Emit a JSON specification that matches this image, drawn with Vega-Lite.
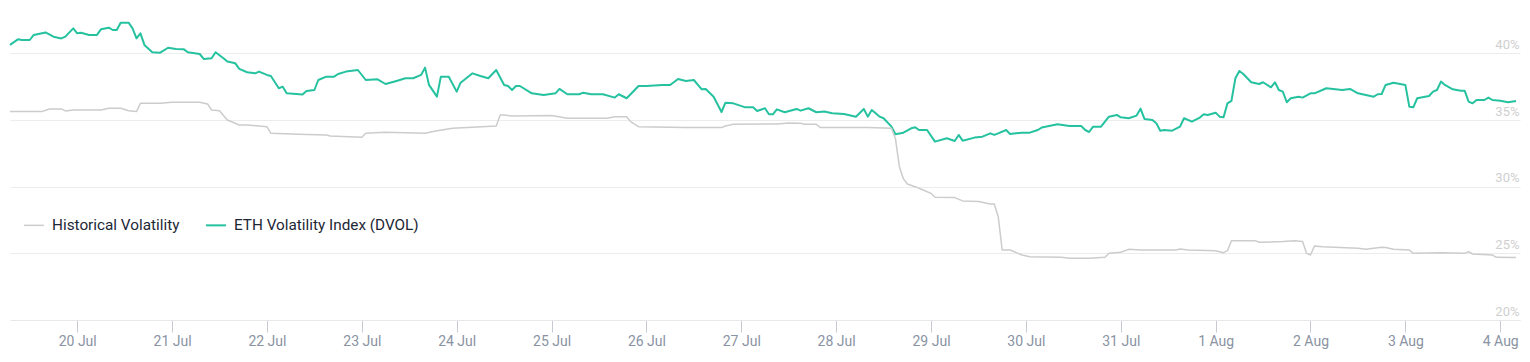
{
  "$schema": "https://vega.github.io/schema/vega-lite/v6.json",
  "width": 1510,
  "height": 320,
  "autosize": "none",
  "padding": {"left": 10, "top": 0, "right": 10, "bottom": 42},
  "background": "white",
  "config": {
    "view": {"stroke": null},
    "font": "Roboto"
  },
  "data": {
    "values": [
      {"t":"2023-07-19T07:00:00Z","s":"DVOL","v":40.63},
      {"t":"2023-07-19T09:00:00Z","s":"DVOL","v":41.05},
      {"t":"2023-07-19T10:00:00Z","s":"DVOL","v":41.0},
      {"t":"2023-07-19T12:00:00Z","s":"DVOL","v":41.0},
      {"t":"2023-07-19T13:00:00Z","s":"DVOL","v":41.38},
      {"t":"2023-07-19T16:00:00Z","s":"DVOL","v":41.57},
      {"t":"2023-07-19T18:00:00Z","s":"DVOL","v":41.25},
      {"t":"2023-07-19T20:00:00Z","s":"DVOL","v":41.12},
      {"t":"2023-07-19T21:00:00Z","s":"DVOL","v":41.25},
      {"t":"2023-07-19T23:00:00Z","s":"DVOL","v":41.87},
      {"t":"2023-07-20T00:00:00Z","s":"DVOL","v":41.5},
      {"t":"2023-07-20T01:00:00Z","s":"DVOL","v":41.55},
      {"t":"2023-07-20T03:00:00Z","s":"DVOL","v":41.38},
      {"t":"2023-07-20T05:00:00Z","s":"DVOL","v":41.38},
      {"t":"2023-07-20T06:00:00Z","s":"DVOL","v":41.8},
      {"t":"2023-07-20T08:00:00Z","s":"DVOL","v":41.92},
      {"t":"2023-07-20T09:00:00Z","s":"DVOL","v":41.75},
      {"t":"2023-07-20T10:00:00Z","s":"DVOL","v":41.75},
      {"t":"2023-07-20T11:00:00Z","s":"DVOL","v":42.3},
      {"t":"2023-07-20T13:00:00Z","s":"DVOL","v":42.3},
      {"t":"2023-07-20T14:00:00Z","s":"DVOL","v":41.87},
      {"t":"2023-07-20T15:00:00Z","s":"DVOL","v":41.12},
      {"t":"2023-07-20T16:00:00Z","s":"DVOL","v":41.5},
      {"t":"2023-07-20T17:00:00Z","s":"DVOL","v":40.63},
      {"t":"2023-07-20T19:00:00Z","s":"DVOL","v":40.08},
      {"t":"2023-07-20T21:00:00Z","s":"DVOL","v":40.05},
      {"t":"2023-07-20T23:00:00Z","s":"DVOL","v":40.42},
      {"t":"2023-07-21T01:00:00Z","s":"DVOL","v":40.33},
      {"t":"2023-07-21T03:00:00Z","s":"DVOL","v":40.3},
      {"t":"2023-07-21T04:00:00Z","s":"DVOL","v":40.08},
      {"t":"2023-07-21T07:00:00Z","s":"DVOL","v":39.95},
      {"t":"2023-07-21T08:00:00Z","s":"DVOL","v":39.58},
      {"t":"2023-07-21T10:00:00Z","s":"DVOL","v":39.63},
      {"t":"2023-07-21T11:00:00Z","s":"DVOL","v":40.08},
      {"t":"2023-07-21T13:00:00Z","s":"DVOL","v":39.63},
      {"t":"2023-07-21T14:00:00Z","s":"DVOL","v":39.38},
      {"t":"2023-07-21T16:00:00Z","s":"DVOL","v":39.25},
      {"t":"2023-07-21T17:00:00Z","s":"DVOL","v":38.83},
      {"t":"2023-07-21T19:00:00Z","s":"DVOL","v":38.58},
      {"t":"2023-07-21T21:00:00Z","s":"DVOL","v":38.5},
      {"t":"2023-07-21T22:00:00Z","s":"DVOL","v":38.63},
      {"t":"2023-07-22T00:00:00Z","s":"DVOL","v":38.38},
      {"t":"2023-07-22T01:00:00Z","s":"DVOL","v":38.3},
      {"t":"2023-07-22T03:00:00Z","s":"DVOL","v":37.38},
      {"t":"2023-07-22T04:00:00Z","s":"DVOL","v":37.5},
      {"t":"2023-07-22T05:00:00Z","s":"DVOL","v":37.0},
      {"t":"2023-07-22T09:00:00Z","s":"DVOL","v":36.92},
      {"t":"2023-07-22T10:00:00Z","s":"DVOL","v":37.18},
      {"t":"2023-07-22T12:00:00Z","s":"DVOL","v":37.25},
      {"t":"2023-07-22T13:00:00Z","s":"DVOL","v":38.0},
      {"t":"2023-07-22T15:00:00Z","s":"DVOL","v":38.25},
      {"t":"2023-07-22T17:00:00Z","s":"DVOL","v":38.25},
      {"t":"2023-07-22T18:00:00Z","s":"DVOL","v":38.45},
      {"t":"2023-07-22T20:00:00Z","s":"DVOL","v":38.63},
      {"t":"2023-07-22T23:00:00Z","s":"DVOL","v":38.75},
      {"t":"2023-07-23T01:00:00Z","s":"DVOL","v":38.0},
      {"t":"2023-07-23T04:00:00Z","s":"DVOL","v":38.05},
      {"t":"2023-07-23T06:00:00Z","s":"DVOL","v":37.7},
      {"t":"2023-07-23T09:00:00Z","s":"DVOL","v":37.95},
      {"t":"2023-07-23T11:00:00Z","s":"DVOL","v":38.13},
      {"t":"2023-07-23T13:00:00Z","s":"DVOL","v":38.13},
      {"t":"2023-07-23T15:00:00Z","s":"DVOL","v":38.38},
      {"t":"2023-07-23T16:00:00Z","s":"DVOL","v":38.93},
      {"t":"2023-07-23T17:00:00Z","s":"DVOL","v":37.63},
      {"t":"2023-07-23T19:00:00Z","s":"DVOL","v":36.75},
      {"t":"2023-07-23T20:00:00Z","s":"DVOL","v":38.25},
      {"t":"2023-07-23T22:00:00Z","s":"DVOL","v":38.25},
      {"t":"2023-07-24T00:00:00Z","s":"DVOL","v":37.13},
      {"t":"2023-07-24T01:00:00Z","s":"DVOL","v":37.8},
      {"t":"2023-07-24T04:00:00Z","s":"DVOL","v":38.5},
      {"t":"2023-07-24T06:00:00Z","s":"DVOL","v":38.3},
      {"t":"2023-07-24T08:00:00Z","s":"DVOL","v":38.13},
      {"t":"2023-07-24T10:00:00Z","s":"DVOL","v":38.75},
      {"t":"2023-07-24T12:00:00Z","s":"DVOL","v":37.63},
      {"t":"2023-07-24T13:00:00Z","s":"DVOL","v":37.55},
      {"t":"2023-07-24T14:00:00Z","s":"DVOL","v":37.25},
      {"t":"2023-07-24T15:00:00Z","s":"DVOL","v":37.55},
      {"t":"2023-07-24T16:00:00Z","s":"DVOL","v":37.55},
      {"t":"2023-07-24T19:00:00Z","s":"DVOL","v":37.0},
      {"t":"2023-07-24T22:00:00Z","s":"DVOL","v":36.88},
      {"t":"2023-07-25T01:00:00Z","s":"DVOL","v":37.0},
      {"t":"2023-07-25T02:00:00Z","s":"DVOL","v":37.33},
      {"t":"2023-07-25T04:00:00Z","s":"DVOL","v":36.93},
      {"t":"2023-07-25T07:00:00Z","s":"DVOL","v":36.93},
      {"t":"2023-07-25T08:00:00Z","s":"DVOL","v":37.05},
      {"t":"2023-07-25T10:00:00Z","s":"DVOL","v":36.93},
      {"t":"2023-07-25T13:00:00Z","s":"DVOL","v":36.93},
      {"t":"2023-07-25T16:00:00Z","s":"DVOL","v":36.68},
      {"t":"2023-07-25T17:00:00Z","s":"DVOL","v":36.93},
      {"t":"2023-07-25T19:00:00Z","s":"DVOL","v":36.63},
      {"t":"2023-07-25T20:00:00Z","s":"DVOL","v":36.93},
      {"t":"2023-07-25T22:00:00Z","s":"DVOL","v":37.55},
      {"t":"2023-07-26T00:00:00Z","s":"DVOL","v":37.55},
      {"t":"2023-07-26T04:00:00Z","s":"DVOL","v":37.63},
      {"t":"2023-07-26T06:00:00Z","s":"DVOL","v":37.63},
      {"t":"2023-07-26T08:00:00Z","s":"DVOL","v":38.08},
      {"t":"2023-07-26T10:00:00Z","s":"DVOL","v":37.93},
      {"t":"2023-07-26T12:00:00Z","s":"DVOL","v":38.0},
      {"t":"2023-07-26T14:00:00Z","s":"DVOL","v":37.3},
      {"t":"2023-07-26T15:00:00Z","s":"DVOL","v":37.33},
      {"t":"2023-07-26T17:00:00Z","s":"DVOL","v":36.75},
      {"t":"2023-07-26T19:00:00Z","s":"DVOL","v":35.6},
      {"t":"2023-07-26T20:00:00Z","s":"DVOL","v":36.3},
      {"t":"2023-07-26T22:00:00Z","s":"DVOL","v":36.25},
      {"t":"2023-07-27T01:00:00Z","s":"DVOL","v":35.95},
      {"t":"2023-07-27T03:00:00Z","s":"DVOL","v":35.95},
      {"t":"2023-07-27T04:00:00Z","s":"DVOL","v":35.68},
      {"t":"2023-07-27T06:00:00Z","s":"DVOL","v":35.88},
      {"t":"2023-07-27T07:00:00Z","s":"DVOL","v":35.43},
      {"t":"2023-07-27T08:00:00Z","s":"DVOL","v":35.43},
      {"t":"2023-07-27T09:00:00Z","s":"DVOL","v":35.8},
      {"t":"2023-07-27T11:00:00Z","s":"DVOL","v":35.58},
      {"t":"2023-07-27T14:00:00Z","s":"DVOL","v":35.83},
      {"t":"2023-07-27T15:00:00Z","s":"DVOL","v":35.7},
      {"t":"2023-07-27T17:00:00Z","s":"DVOL","v":35.88},
      {"t":"2023-07-27T19:00:00Z","s":"DVOL","v":35.58},
      {"t":"2023-07-27T21:00:00Z","s":"DVOL","v":35.63},
      {"t":"2023-07-27T23:00:00Z","s":"DVOL","v":35.5},
      {"t":"2023-07-28T02:00:00Z","s":"DVOL","v":35.45},
      {"t":"2023-07-28T05:00:00Z","s":"DVOL","v":35.25},
      {"t":"2023-07-28T07:00:00Z","s":"DVOL","v":35.83},
      {"t":"2023-07-28T08:00:00Z","s":"DVOL","v":35.25},
      {"t":"2023-07-28T09:00:00Z","s":"DVOL","v":35.75},
      {"t":"2023-07-28T10:00:00Z","s":"DVOL","v":35.5},
      {"t":"2023-07-28T11:00:00Z","s":"DVOL","v":35.25},
      {"t":"2023-07-28T12:00:00Z","s":"DVOL","v":35.13},
      {"t":"2023-07-28T14:00:00Z","s":"DVOL","v":34.5},
      {"t":"2023-07-28T15:00:00Z","s":"DVOL","v":33.93},
      {"t":"2023-07-28T17:00:00Z","s":"DVOL","v":34.05},
      {"t":"2023-07-28T19:00:00Z","s":"DVOL","v":34.38},
      {"t":"2023-07-28T20:00:00Z","s":"DVOL","v":34.45},
      {"t":"2023-07-28T21:00:00Z","s":"DVOL","v":34.25},
      {"t":"2023-07-28T23:00:00Z","s":"DVOL","v":34.25},
      {"t":"2023-07-29T01:00:00Z","s":"DVOL","v":33.38},
      {"t":"2023-07-29T04:00:00Z","s":"DVOL","v":33.63},
      {"t":"2023-07-29T06:00:00Z","s":"DVOL","v":33.43},
      {"t":"2023-07-29T07:00:00Z","s":"DVOL","v":33.88},
      {"t":"2023-07-29T08:00:00Z","s":"DVOL","v":33.45},
      {"t":"2023-07-29T11:00:00Z","s":"DVOL","v":33.68},
      {"t":"2023-07-29T13:00:00Z","s":"DVOL","v":33.75},
      {"t":"2023-07-29T15:00:00Z","s":"DVOL","v":34.0},
      {"t":"2023-07-29T16:00:00Z","s":"DVOL","v":33.88},
      {"t":"2023-07-29T17:00:00Z","s":"DVOL","v":34.0},
      {"t":"2023-07-29T19:00:00Z","s":"DVOL","v":34.25},
      {"t":"2023-07-29T20:00:00Z","s":"DVOL","v":33.95},
      {"t":"2023-07-29T23:00:00Z","s":"DVOL","v":34.05},
      {"t":"2023-07-30T01:00:00Z","s":"DVOL","v":34.05},
      {"t":"2023-07-30T03:00:00Z","s":"DVOL","v":34.25},
      {"t":"2023-07-30T04:00:00Z","s":"DVOL","v":34.43},
      {"t":"2023-07-30T08:00:00Z","s":"DVOL","v":34.68},
      {"t":"2023-07-30T11:00:00Z","s":"DVOL","v":34.55},
      {"t":"2023-07-30T14:00:00Z","s":"DVOL","v":34.55},
      {"t":"2023-07-30T15:00:00Z","s":"DVOL","v":34.25},
      {"t":"2023-07-30T16:00:00Z","s":"DVOL","v":34.1},
      {"t":"2023-07-30T17:00:00Z","s":"DVOL","v":34.5},
      {"t":"2023-07-30T19:00:00Z","s":"DVOL","v":34.5},
      {"t":"2023-07-30T21:00:00Z","s":"DVOL","v":35.25},
      {"t":"2023-07-30T23:00:00Z","s":"DVOL","v":35.38},
      {"t":"2023-07-31T00:00:00Z","s":"DVOL","v":35.2},
      {"t":"2023-07-31T02:00:00Z","s":"DVOL","v":35.13},
      {"t":"2023-07-31T04:00:00Z","s":"DVOL","v":35.33},
      {"t":"2023-07-31T05:00:00Z","s":"DVOL","v":35.85},
      {"t":"2023-07-31T06:00:00Z","s":"DVOL","v":35.08},
      {"t":"2023-07-31T08:00:00Z","s":"DVOL","v":35.0},
      {"t":"2023-07-31T09:00:00Z","s":"DVOL","v":34.75},
      {"t":"2023-07-31T10:00:00Z","s":"DVOL","v":34.2},
      {"t":"2023-07-31T11:00:00Z","s":"DVOL","v":34.25},
      {"t":"2023-07-31T13:00:00Z","s":"DVOL","v":34.2},
      {"t":"2023-07-31T15:00:00Z","s":"DVOL","v":34.5},
      {"t":"2023-07-31T16:00:00Z","s":"DVOL","v":35.13},
      {"t":"2023-07-31T18:00:00Z","s":"DVOL","v":34.88},
      {"t":"2023-07-31T20:00:00Z","s":"DVOL","v":35.18},
      {"t":"2023-07-31T21:00:00Z","s":"DVOL","v":35.43},
      {"t":"2023-07-31T22:00:00Z","s":"DVOL","v":35.38},
      {"t":"2023-08-01T00:00:00Z","s":"DVOL","v":35.55},
      {"t":"2023-08-01T01:00:00Z","s":"DVOL","v":35.25},
      {"t":"2023-08-01T02:00:00Z","s":"DVOL","v":35.2},
      {"t":"2023-08-01T03:00:00Z","s":"DVOL","v":36.25},
      {"t":"2023-08-01T04:00:00Z","s":"DVOL","v":36.43},
      {"t":"2023-08-01T05:00:00Z","s":"DVOL","v":38.13},
      {"t":"2023-08-01T06:00:00Z","s":"DVOL","v":38.68},
      {"t":"2023-08-01T07:00:00Z","s":"DVOL","v":38.45},
      {"t":"2023-08-01T09:00:00Z","s":"DVOL","v":37.83},
      {"t":"2023-08-01T11:00:00Z","s":"DVOL","v":37.7},
      {"t":"2023-08-01T12:00:00Z","s":"DVOL","v":37.83},
      {"t":"2023-08-01T14:00:00Z","s":"DVOL","v":37.45},
      {"t":"2023-08-01T15:00:00Z","s":"DVOL","v":37.83},
      {"t":"2023-08-01T16:00:00Z","s":"DVOL","v":37.25},
      {"t":"2023-08-01T17:00:00Z","s":"DVOL","v":37.13},
      {"t":"2023-08-01T18:00:00Z","s":"DVOL","v":36.33},
      {"t":"2023-08-01T19:00:00Z","s":"DVOL","v":36.63},
      {"t":"2023-08-01T21:00:00Z","s":"DVOL","v":36.75},
      {"t":"2023-08-01T22:00:00Z","s":"DVOL","v":36.68},
      {"t":"2023-08-02T00:00:00Z","s":"DVOL","v":37.0},
      {"t":"2023-08-02T01:00:00Z","s":"DVOL","v":37.0},
      {"t":"2023-08-02T03:00:00Z","s":"DVOL","v":37.25},
      {"t":"2023-08-02T04:00:00Z","s":"DVOL","v":37.38},
      {"t":"2023-08-02T08:00:00Z","s":"DVOL","v":37.25},
      {"t":"2023-08-02T10:00:00Z","s":"DVOL","v":37.33},
      {"t":"2023-08-02T12:00:00Z","s":"DVOL","v":37.0},
      {"t":"2023-08-02T14:00:00Z","s":"DVOL","v":36.88},
      {"t":"2023-08-02T16:00:00Z","s":"DVOL","v":36.75},
      {"t":"2023-08-02T17:00:00Z","s":"DVOL","v":36.93},
      {"t":"2023-08-02T18:00:00Z","s":"DVOL","v":36.95},
      {"t":"2023-08-02T19:00:00Z","s":"DVOL","v":37.63},
      {"t":"2023-08-02T21:00:00Z","s":"DVOL","v":37.8},
      {"t":"2023-08-03T00:00:00Z","s":"DVOL","v":37.63},
      {"t":"2023-08-03T01:00:00Z","s":"DVOL","v":36.0},
      {"t":"2023-08-03T02:00:00Z","s":"DVOL","v":35.95},
      {"t":"2023-08-03T03:00:00Z","s":"DVOL","v":36.63},
      {"t":"2023-08-03T06:00:00Z","s":"DVOL","v":36.8},
      {"t":"2023-08-03T07:00:00Z","s":"DVOL","v":37.13},
      {"t":"2023-08-03T08:00:00Z","s":"DVOL","v":37.25},
      {"t":"2023-08-03T09:00:00Z","s":"DVOL","v":37.88},
      {"t":"2023-08-03T10:00:00Z","s":"DVOL","v":37.63},
      {"t":"2023-08-03T12:00:00Z","s":"DVOL","v":37.3},
      {"t":"2023-08-03T14:00:00Z","s":"DVOL","v":37.2},
      {"t":"2023-08-03T15:00:00Z","s":"DVOL","v":37.2},
      {"t":"2023-08-03T16:00:00Z","s":"DVOL","v":36.38},
      {"t":"2023-08-03T17:00:00Z","s":"DVOL","v":36.25},
      {"t":"2023-08-03T18:00:00Z","s":"DVOL","v":36.5},
      {"t":"2023-08-03T20:00:00Z","s":"DVOL","v":36.5},
      {"t":"2023-08-03T21:00:00Z","s":"DVOL","v":36.68},
      {"t":"2023-08-03T22:00:00Z","s":"DVOL","v":36.5},
      {"t":"2023-08-04T00:00:00Z","s":"DVOL","v":36.45},
      {"t":"2023-08-04T02:00:00Z","s":"DVOL","v":36.33},
      {"t":"2023-08-04T04:00:00Z","s":"DVOL","v":36.43},

      {"t":"2023-07-19T07:00:00Z","s":"HV","v":35.63},
      {"t":"2023-07-19T15:00:00Z","s":"HV","v":35.63},
      {"t":"2023-07-19T17:00:00Z","s":"HV","v":35.83},
      {"t":"2023-07-19T20:00:00Z","s":"HV","v":35.83},
      {"t":"2023-07-19T21:00:00Z","s":"HV","v":35.68},
      {"t":"2023-07-19T23:00:00Z","s":"HV","v":35.75},
      {"t":"2023-07-20T06:00:00Z","s":"HV","v":35.75},
      {"t":"2023-07-20T08:00:00Z","s":"HV","v":35.88},
      {"t":"2023-07-20T11:00:00Z","s":"HV","v":35.88},
      {"t":"2023-07-20T13:00:00Z","s":"HV","v":35.7},
      {"t":"2023-07-20T15:00:00Z","s":"HV","v":35.63},
      {"t":"2023-07-20T16:00:00Z","s":"HV","v":36.25},
      {"t":"2023-07-20T21:00:00Z","s":"HV","v":36.25},
      {"t":"2023-07-21T00:00:00Z","s":"HV","v":36.33},
      {"t":"2023-07-21T07:00:00Z","s":"HV","v":36.33},
      {"t":"2023-07-21T09:00:00Z","s":"HV","v":36.2},
      {"t":"2023-07-21T10:00:00Z","s":"HV","v":35.75},
      {"t":"2023-07-21T12:00:00Z","s":"HV","v":35.7},
      {"t":"2023-07-21T14:00:00Z","s":"HV","v":35.0},
      {"t":"2023-07-21T17:00:00Z","s":"HV","v":34.63},
      {"t":"2023-07-21T19:00:00Z","s":"HV","v":34.63},
      {"t":"2023-07-22T00:00:00Z","s":"HV","v":34.5},
      {"t":"2023-07-22T01:00:00Z","s":"HV","v":34.0},
      {"t":"2023-07-22T08:00:00Z","s":"HV","v":33.93},
      {"t":"2023-07-22T15:00:00Z","s":"HV","v":33.88},
      {"t":"2023-07-22T16:00:00Z","s":"HV","v":33.8},
      {"t":"2023-07-23T00:00:00Z","s":"HV","v":33.7},
      {"t":"2023-07-23T01:00:00Z","s":"HV","v":34.0},
      {"t":"2023-07-23T06:00:00Z","s":"HV","v":34.08},
      {"t":"2023-07-23T16:00:00Z","s":"HV","v":34.0},
      {"t":"2023-07-23T19:00:00Z","s":"HV","v":34.2},
      {"t":"2023-07-23T23:00:00Z","s":"HV","v":34.38},
      {"t":"2023-07-24T10:00:00Z","s":"HV","v":34.55},
      {"t":"2023-07-24T11:00:00Z","s":"HV","v":35.38},
      {"t":"2023-07-24T12:00:00Z","s":"HV","v":35.38},
      {"t":"2023-07-24T14:00:00Z","s":"HV","v":35.3},
      {"t":"2023-07-25T00:00:00Z","s":"HV","v":35.33},
      {"t":"2023-07-25T04:00:00Z","s":"HV","v":35.13},
      {"t":"2023-07-25T14:00:00Z","s":"HV","v":35.13},
      {"t":"2023-07-25T16:00:00Z","s":"HV","v":35.25},
      {"t":"2023-07-25T19:00:00Z","s":"HV","v":35.25},
      {"t":"2023-07-25T20:00:00Z","s":"HV","v":34.88},
      {"t":"2023-07-25T22:00:00Z","s":"HV","v":34.5},
      {"t":"2023-07-26T10:00:00Z","s":"HV","v":34.43},
      {"t":"2023-07-26T19:00:00Z","s":"HV","v":34.43},
      {"t":"2023-07-26T20:00:00Z","s":"HV","v":34.55},
      {"t":"2023-07-26T22:00:00Z","s":"HV","v":34.68},
      {"t":"2023-07-27T09:00:00Z","s":"HV","v":34.7},
      {"t":"2023-07-27T12:00:00Z","s":"HV","v":34.78},
      {"t":"2023-07-27T15:00:00Z","s":"HV","v":34.75},
      {"t":"2023-07-27T16:00:00Z","s":"HV","v":34.68},
      {"t":"2023-07-27T19:00:00Z","s":"HV","v":34.68},
      {"t":"2023-07-27T20:00:00Z","s":"HV","v":34.43},
      {"t":"2023-07-28T08:00:00Z","s":"HV","v":34.43},
      {"t":"2023-07-28T14:00:00Z","s":"HV","v":34.38},
      {"t":"2023-07-28T15:00:00Z","s":"HV","v":33.6},
      {"t":"2023-07-28T16:00:00Z","s":"HV","v":31.5},
      {"t":"2023-07-28T17:00:00Z","s":"HV","v":30.6},
      {"t":"2023-07-28T18:00:00Z","s":"HV","v":30.2},
      {"t":"2023-07-28T20:00:00Z","s":"HV","v":30.0},
      {"t":"2023-07-28T22:00:00Z","s":"HV","v":29.75},
      {"t":"2023-07-29T00:00:00Z","s":"HV","v":29.5},
      {"t":"2023-07-29T01:00:00Z","s":"HV","v":29.2},
      {"t":"2023-07-29T06:00:00Z","s":"HV","v":29.18},
      {"t":"2023-07-29T08:00:00Z","s":"HV","v":28.93},
      {"t":"2023-07-29T12:00:00Z","s":"HV","v":28.88},
      {"t":"2023-07-29T15:00:00Z","s":"HV","v":28.7},
      {"t":"2023-07-29T16:00:00Z","s":"HV","v":28.7},
      {"t":"2023-07-29T17:00:00Z","s":"HV","v":27.75},
      {"t":"2023-07-29T18:00:00Z","s":"HV","v":25.25},
      {"t":"2023-07-29T20:00:00Z","s":"HV","v":25.25},
      {"t":"2023-07-29T22:00:00Z","s":"HV","v":25.0},
      {"t":"2023-07-29T23:00:00Z","s":"HV","v":24.88},
      {"t":"2023-07-30T01:00:00Z","s":"HV","v":24.75},
      {"t":"2023-07-30T09:00:00Z","s":"HV","v":24.7},
      {"t":"2023-07-30T11:00:00Z","s":"HV","v":24.63},
      {"t":"2023-07-30T16:00:00Z","s":"HV","v":24.63},
      {"t":"2023-07-30T20:00:00Z","s":"HV","v":24.7},
      {"t":"2023-07-30T21:00:00Z","s":"HV","v":25.0},
      {"t":"2023-07-31T00:00:00Z","s":"HV","v":25.08},
      {"t":"2023-07-31T02:00:00Z","s":"HV","v":25.3},
      {"t":"2023-07-31T05:00:00Z","s":"HV","v":25.25},
      {"t":"2023-07-31T14:00:00Z","s":"HV","v":25.25},
      {"t":"2023-07-31T15:00:00Z","s":"HV","v":25.33},
      {"t":"2023-07-31T17:00:00Z","s":"HV","v":25.25},
      {"t":"2023-08-01T00:00:00Z","s":"HV","v":25.2},
      {"t":"2023-08-01T02:00:00Z","s":"HV","v":25.05},
      {"t":"2023-08-01T03:00:00Z","s":"HV","v":25.2},
      {"t":"2023-08-01T04:00:00Z","s":"HV","v":25.95},
      {"t":"2023-08-01T10:00:00Z","s":"HV","v":25.95},
      {"t":"2023-08-01T11:00:00Z","s":"HV","v":25.83},
      {"t":"2023-08-01T17:00:00Z","s":"HV","v":25.88},
      {"t":"2023-08-01T20:00:00Z","s":"HV","v":25.95},
      {"t":"2023-08-01T22:00:00Z","s":"HV","v":25.88},
      {"t":"2023-08-01T23:00:00Z","s":"HV","v":25.0},
      {"t":"2023-08-02T00:00:00Z","s":"HV","v":24.88},
      {"t":"2023-08-02T01:00:00Z","s":"HV","v":25.55},
      {"t":"2023-08-02T03:00:00Z","s":"HV","v":25.5},
      {"t":"2023-08-02T12:00:00Z","s":"HV","v":25.38},
      {"t":"2023-08-02T14:00:00Z","s":"HV","v":25.3},
      {"t":"2023-08-02T18:00:00Z","s":"HV","v":25.45},
      {"t":"2023-08-02T19:00:00Z","s":"HV","v":25.43},
      {"t":"2023-08-02T21:00:00Z","s":"HV","v":25.3},
      {"t":"2023-08-03T01:00:00Z","s":"HV","v":25.25},
      {"t":"2023-08-03T02:00:00Z","s":"HV","v":25.0},
      {"t":"2023-08-03T09:00:00Z","s":"HV","v":25.05},
      {"t":"2023-08-03T15:00:00Z","s":"HV","v":25.0},
      {"t":"2023-08-03T16:00:00Z","s":"HV","v":25.13},
      {"t":"2023-08-03T17:00:00Z","s":"HV","v":24.95},
      {"t":"2023-08-03T22:00:00Z","s":"HV","v":24.88},
      {"t":"2023-08-03T23:00:00Z","s":"HV","v":24.7},
      {"t":"2023-08-04T04:00:00Z","s":"HV","v":24.68}
    ]
  },
  "mark": {"type": "line", "interpolate": "linear", "strokeJoin": "round"},
  "encoding": {
    "x": {
      "field": "t",
      "type": "temporal",
      "scale": {
        "type": "utc",
        "domain": [
          {"year": 2023, "month": 7, "date": 19, "hours": 7, "utc": true},
          {"year": 2023, "month": 8, "date": 4, "hours": 5, "utc": true}
        ]
      },
      "axis": {
        "title": null,
        "labelExpr": "utcFormat(datum.value, '%-d %b')",
        "tickCount": {"interval": "day", "step": 1},
        "grid": false,
        "domain": true,
        "domainColor": "#e8e8e8",
        "domainWidth": 1,
        "ticks": true,
        "tickColor": "#c8ccd2",
        "tickSize": 12,
        "tickWidth": 1,
        "labelColor": "#8a93a3",
        "labelFontSize": 14,
        "labelFont": "Roboto",
        "labelPadding": 2,
        "labelFlush": false
      }
    },
    "y": {
      "field": "v",
      "type": "quantitative",
      "scale": {"domain": [20, 44], "nice": false, "zero": false},
      "axis": {
        "title": null,
        "orient": "right",
        "values": [20, 25, 30, 35, 40],
        "labelExpr": "datum.value + '%'",
        "grid": true,
        "gridColor": "#ececec",
        "gridWidth": 1,
        "domain": false,
        "ticks": false,
        "labelAlign": "right",
        "labelBaseline": "bottom",
        "labelPadding": -1,
        "labelOffset": -2,
        "labelColor": "#cfcfcf",
        "labelFontSize": 13,
        "labelFont": "Roboto"
      }
    },
    "color": {
      "field": "s",
      "type": "nominal",
      "scale": {"domain": ["HV", "DVOL"], "range": ["#cccccc", "#26c2a0"]},
      "legend": {
        "title": null,
        "orient": "none",
        "legendX": 13,
        "legendY": 214,
        "direction": "horizontal",
        "symbolType": "stroke",
        "symbolSize": 400,
        "symbolStrokeWidth": 2,
        "labelExpr": "datum.label == 'HV' ? 'Historical Volatility' : 'ETH Volatility Index (DVOL)'",
        "labelFontSize": 15.3,
        "labelFont": "Roboto",
        "labelColor": "#1d2736",
        "labelOffset": 7,
        "columnPadding": 22,
        "labelLimit": 400
      }
    },
    "strokeWidth": {
      "field": "s",
      "type": "nominal",
      "scale": {"domain": ["HV", "DVOL"], "range": [1.5, 2]},
      "legend": null
    },
    "order": {"field": "t", "type": "temporal"}
  }
}
